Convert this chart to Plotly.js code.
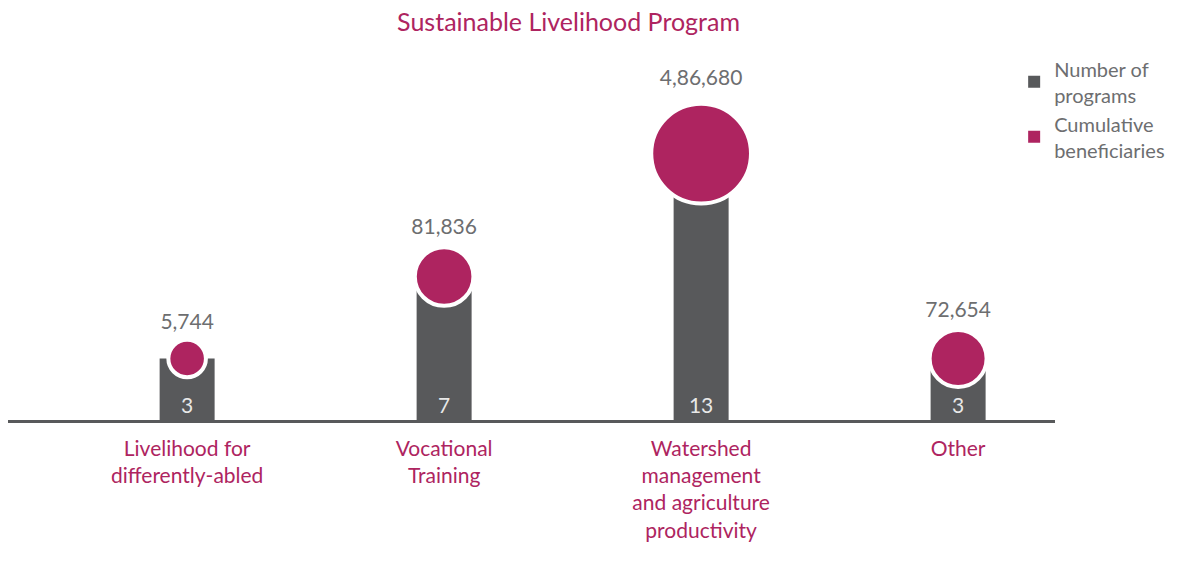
<!DOCTYPE html>
<html>
<head>
<meta charset="utf-8">
<script src="https://cdn.plot.ly/plotly-3.0.1.min.js"></script>
<style>html,body{margin:0;padding:0;background:#fff;}#chart{width:1182px;height:579px;}</style>
</head>
<body>
<div id="chart"></div>
<script>
const categories = ["Livelihood for differently-abled", "Vocational Training", "Watershed management and agriculture productivity", "Other"];
const tickLabels = ["Livelihood for<br>differently-abled", "Vocational<br>Training", "Watershed<br>management<br>and agriculture<br>productivity", "Other"];
const programs = [3, 7, 13, 3];
const beneficiaries = [5744, 81836, 486680, 72654];
const beneficiaryLabels = ["5,744", "81,836", "4,86,680", "72,654"];

const GREY = "#58595b";
const MAGENTA = "#ae2460";
const FONT = "Lato, 'Noto Sans', sans-serif";

const bubbleSizes = beneficiaries.map(v => 30 + 0.1 * Math.sqrt(v));

const traces = [
  {
    type: "bar",
    name: "Number of<br>programs",
    x: categories,
    y: programs,
    width: 0.214,
    marker: {color: GREY},
    text: programs.map(String),
    textposition: "inside",
    insidetextanchor: "start",
    constraintext: "none",
    textfont: {family: FONT, size: 21, color: "#e8e8e8"},
    hoverinfo: "skip"
  },
  {
    type: "scatter",
    mode: "markers+text",
    name: "Cumulative beneficiaries",
    showlegend: false,
    x: categories,
    y: programs,
    text: beneficiaryLabels,
    textposition: "top center",
    textfont: {family: FONT, size: 21, color: "#6d6e70"},
    cliponaxis: false,
    marker: {size: bubbleSizes, sizemode: "diameter", color: MAGENTA, line: {color: "#ffffff", width: 4}, opacity: 1},
    hoverinfo: "skip"
  },
  {
    type: "bar",
    name: "Cumulative<br>beneficiaries",
    x: [null],
    y: [null],
    marker: {color: MAGENTA},
    hoverinfo: "skip"
  }
];

const layout = {
  width: 1182,
  height: 579,
  margin: {l: 8, r: 127, t: 50, b: 159, autoexpand: false},
  paper_bgcolor: "#ffffff",
  plot_bgcolor: "#ffffff",
  font: {family: FONT, color: "#6d6e70"},
  title: {
    text: "Sustainable Livelihood Program",
    font: {family: FONT, size: 25, color: MAGENTA},
    x: 0.481, xanchor: "center", xref: "container",
    y: 0.962, yanchor: "middle", yref: "container"
  },
  showlegend: true,
  legend: {
    x: 0.858, xref: "container", xanchor: "left",
    y: 0.915, yref: "container", yanchor: "top",
    font: {family: FONT, size: 20, color: "#6d6e70"},
    tracegroupgap: 16,
    itemwidth: 30,
    bgcolor: "rgba(0,0,0,0)"
  },
  barmode: "overlay",
  xaxis: {
    type: "category",
    categoryarray: categories,
    range: [-0.697, 3.377],
    tickmode: "array",
    tickvals: categories,
    ticktext: tickLabels,
    ticks: "",
    ticklabelstandoff: 8,
    tickfont: {family: FONT, size: 21, color: MAGENTA},
    showgrid: false,
    zeroline: false,
    showline: true,
    linecolor: GREY,
    linewidth: 2.5
  },
  yaxis: {
    range: [0, 18.05],
    visible: false,
    showgrid: false,
    zeroline: false,
    fixedrange: true
  }
};

Plotly.newPlot("chart", traces, layout, {displayModeBar: false, staticPlot: true});
</script>
</body>
</html>
